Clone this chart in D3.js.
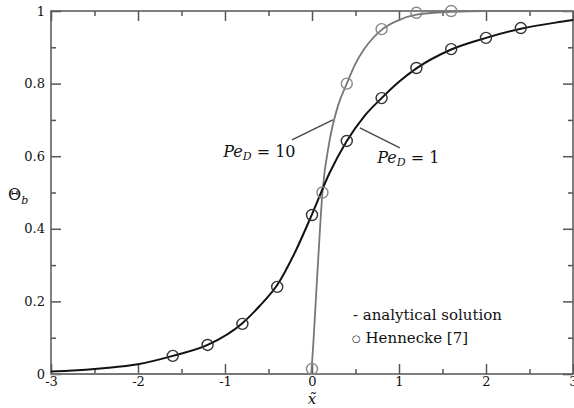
<!DOCTYPE html>
<html lang="en">

<head>
    <meta charset="UTF-8">
    <title>Theta_b profiles</title>
    <script src="https://d3js.org/d3.v7.min.js"></script>
    <style>
        body {
            margin: 0;
            background: #fff;
        }
    </style>
</head>

<body>
    <script>
        // Analytical curve, Pe_D = 1
        const pe1CurveX = [-3, -2.8, -2.4, -2, -1.6, -1.2, -0.8, -0.6, -0.4, -0.2, 0, 0.2, 0.4, 0.6, 0.8, 1.0, 1.2, 1.6, 2.0, 2.4, 2.8, 3];
        const pe1CurveY = [0.007, 0.009, 0.016, 0.027, 0.05, 0.08, 0.14, 0.188, 0.245, 0.333, 0.44, 0.553, 0.642, 0.71, 0.76, 0.805, 0.842, 0.894, 0.926, 0.951, 0.968, 0.975];

        // Analytical curve, Pe_D = 10
        const pe10CurveX = [-3, -1, -0.01, 0, 0.06, 0.12, 0.2, 0.3, 0.4, 0.5, 0.6, 0.8, 1.0, 1.2, 1.6, 2, 3];
        const pe10CurveY = [0, 0, 0, 0.03, 0.27, 0.5, 0.64, 0.74, 0.8, 0.855, 0.895, 0.948, 0.975, 0.99, 0.998, 1, 1];

        // Hennecke [7] symbols
        const pe1PointsX = [-1.6, -1.2, -0.8, -0.4, 0, 0.4, 0.8, 1.2, 1.6, 2.0, 2.4];
        const pe1PointsY = [0.05, 0.08, 0.138, 0.24, 0.438, 0.642, 0.76, 0.843, 0.895, 0.926, 0.953];
        const pe10PointsX = [0, 0.12, 0.4, 0.8, 1.2, 1.6];
        const pe10PointsY = [0.014, 0.5, 0.8, 0.95, 0.995, 1.0];

        // Tick values and labels
        const xTicks = [-3, -2, -1, 0, 1, 2, 3];
        const xTickLabels = ["-3", "-2", "-1", "0", "1", "2", "3"];
        const xMinorTicks = [-2.5, -1.5, -0.5, 0.5, 1.5, 2.5];
        const yTicks = [0, 0.2, 0.4, 0.6, 0.8, 1];
        const yTickLabels = ["0", "0.2", "0.4", "0.6", "0.8", "1"];
        const yMinorTicks = [0.1, 0.3, 0.5, 0.7, 0.9];

        const W = 574, H = 408;
        const margin = { top: 11, right: 1, bottom: 34, left: 51 };
        const width = W - margin.left - margin.right;
        const height = H - margin.top - margin.bottom;
        const FONT = "DejaVu Serif";

        const x = d3.scaleLinear().domain([-3, 3]).range([0, width]);
        const y = d3.scaleLinear().domain([0, 1]).range([height, 0]);

        const svg = d3.select("body").append("svg").attr("width", W).attr("height", H)
            .attr("font-family", FONT);
        const g = svg.append("g").attr("transform", `translate(${margin.left},${margin.top})`);

        const axisColor = "#555";

        // helper: draw one set of inward ticks
        function ticks(axis, transform) {
            const a = g.append("g").attr("transform", transform).call(axis);
            a.attr("font-family", FONT);
            a.select(".domain").remove();
            a.selectAll("line").attr("stroke", axisColor).attr("stroke-width", 1.5);
            a.selectAll("text").attr("font-size", 13).attr("fill", "#111");
            return a;
        }

        // bottom
        ticks(d3.axisBottom(x).tickValues(xTicks).tickSize(-10).tickSizeOuter(0).tickPadding(3)
            .tickFormat((d, i) => xTickLabels[i]), `translate(0,${height})`);
        ticks(d3.axisBottom(x).tickValues(xMinorTicks).tickSize(-5).tickFormat(""), `translate(0,${height})`);
        // top
        ticks(d3.axisTop(x).tickValues(xTicks).tickSize(-10).tickFormat(""), "translate(0,0)");
        ticks(d3.axisTop(x).tickValues(xMinorTicks).tickSize(-5).tickFormat(""), "translate(0,0)");
        // left
        ticks(d3.axisLeft(y).tickValues(yTicks).tickSize(-10).tickPadding(6)
            .tickFormat((d, i) => yTickLabels[i]), "translate(0,0)");
        ticks(d3.axisLeft(y).tickValues(yMinorTicks).tickSize(-5).tickFormat(""), "translate(0,0)");
        // right
        ticks(d3.axisRight(y).tickValues(yTicks).tickSize(-10).tickFormat(""), `translate(${width},0)`);
        ticks(d3.axisRight(y).tickValues(yMinorTicks).tickSize(-5).tickFormat(""), `translate(${width},0)`);

        // frame
        g.append("rect")
            .attr("width", width).attr("height", height)
            .attr("fill", "none").attr("stroke", axisColor).attr("stroke-width", 1.5);

        // curves
        const line = d3.line()
            .x(d => x(d[0]))
            .y(d => y(d[1]))
            .curve(d3.curveMonotoneX);

        g.append("path")
            .datum(d3.zip(pe10CurveX, pe10CurveY))
            .attr("d", line)
            .attr("fill", "none")
            .attr("stroke", "#777")
            .attr("stroke-width", 1.8);

        g.append("path")
            .datum(d3.zip(pe1CurveX, pe1CurveY))
            .attr("d", line)
            .attr("fill", "none")
            .attr("stroke", "#111")
            .attr("stroke-width", 2);

        // symbols
        g.selectAll(".p10").data(d3.zip(pe10PointsX, pe10PointsY)).join("circle")
            .attr("class", "p10")
            .attr("cx", d => x(d[0])).attr("cy", d => y(d[1])).attr("r", 5.5)
            .attr("fill", "none").attr("stroke", "#888").attr("stroke-width", 1.4);

        g.selectAll(".p1").data(d3.zip(pe1PointsX, pe1PointsY)).join("circle")
            .attr("class", "p1")
            .attr("cx", d => x(d[0])).attr("cy", d => y(d[1])).attr("r", 5.5)
            .attr("fill", "none").attr("stroke", "#333").attr("stroke-width", 1.4);

        // Pe_D labels with leader lines
        function peLabel(px, py, val) {
            const t = g.append("text").attr("x", x(px)).attr("y", y(py)).attr("font-size", 16).attr("fill", "#111");
            t.append("tspan").attr("font-style", "italic").text("Pe");
            t.append("tspan").attr("font-style", "italic").attr("font-size", 11).attr("dy", 3).text("D");
            t.append("tspan").attr("dy", -3).text(" = " + val);
        }
        function leader(x1, y1, x2, y2) {
            g.append("line")
                .attr("x1", x(x1)).attr("y1", y(y1)).attr("x2", x(x2)).attr("y2", y(y2))
                .attr("stroke", "#444").attr("stroke-width", 1.3);
        }
        peLabel(-1.02, 0.598, "10");
        leader(-0.23, 0.645, 0.24, 0.70);
        peLabel(0.75, 0.581, "1");
        leader(0.55, 0.678, 1.01, 0.623);

        // legend
        g.append("text").attr("x", x(0.47)).attr("y", y(0.149)).attr("font-size", 15).attr("fill", "#111")
            .text("- analytical solution");
        const leg2 = g.append("text").attr("x", x(0.46)).attr("y", y(0.085)).attr("font-size", 15).attr("fill", "#111");
        leg2.append("tspan").attr("font-size", 10).attr("dy", -1).text("\u25CB");
        leg2.append("tspan").attr("dy", 1).text(" Hennecke [7]");

        // axis titles
        const yl = svg.append("text").attr("x", 8).attr("y", 200).attr("font-size", 16).attr("fill", "#111");
        yl.append("tspan").text("\u0398");
        yl.append("tspan").attr("font-style", "italic").attr("font-size", 11).attr("dy", 4).text("b");

        svg.append("text")
            .attr("x", margin.left + x(0)).attr("y", 404)
            .attr("text-anchor", "middle").attr("font-size", 15).attr("font-style", "italic").attr("fill", "#111")
            .text("x\u0303");
    </script>
</body>

</html>
